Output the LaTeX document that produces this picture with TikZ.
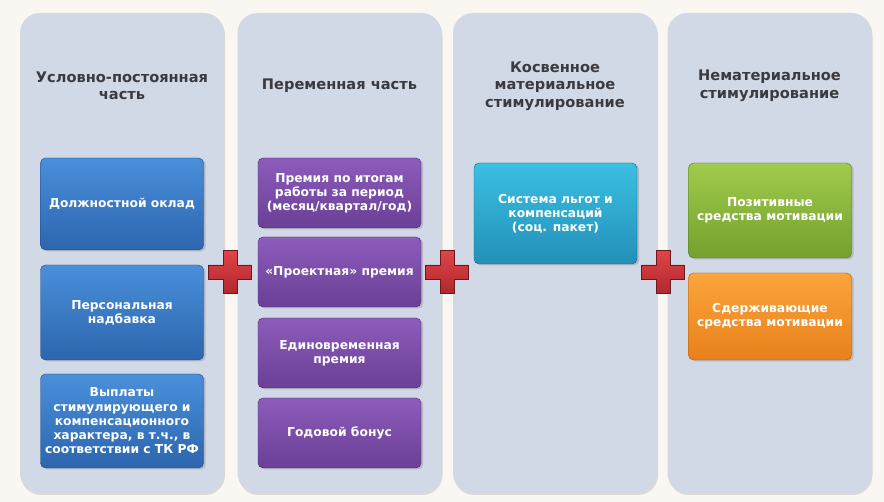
\documentclass[tikz,border=0pt]{standalone}
\usepackage{fontspec}
\setsansfont{DejaVu Sans}
\usetikzlibrary{shadows}
\definecolor{paper}{HTML}{FAF7F2}
\definecolor{panelbg}{HTML}{D1D9E7}
\definecolor{ink}{HTML}{3A3A40}
\definecolor{fixtop}{HTML}{4A8FDA}
\definecolor{fixbot}{HTML}{2C66AE}
\definecolor{vartop}{HTML}{8C5CBB}
\definecolor{varbot}{HTML}{6A3F95}
\definecolor{indtop}{HTML}{3BBFE2}
\definecolor{indbot}{HTML}{2390B8}
\definecolor{postop}{HTML}{A0CB4C}
\definecolor{posbot}{HTML}{74A02E}
\definecolor{negtop}{HTML}{FBA53C}
\definecolor{negbot}{HTML}{E8801A}
\definecolor{plustop}{HTML}{E04448}
\definecolor{plusbot}{HTML}{B0282E}

\begin{document}
\begin{tikzpicture}[x=1pt, y=-1pt,
  panel/.style={fill=panelbg, rounded corners=20pt, minimum width=204pt, minimum height=480pt,
    drop shadow={opacity=0.25, shadow xshift=1pt, shadow yshift=-2pt}},
  head/.style={font=\sffamily\bfseries\fontsize{14.6}{17.5}\selectfont, text=ink, align=center},
  item/.style={rounded corners=5pt, minimum width=163pt, align=center, text=white, inner sep=2pt,
    font=\sffamily\bfseries\fontsize{12.3}{14.2}\selectfont, drop shadow={opacity=0.35, shadow yshift=-1.5pt}},
  fixitem/.style={item, top color=fixtop, bottom color=fixbot, draw=fixbot!70!black},
  varitem/.style={item, top color=vartop, bottom color=varbot, draw=varbot!70!black},
  inditem/.style={item, top color=indtop, bottom color=indbot, draw=indbot!70!black},
  positem/.style={item, top color=postop, bottom color=posbot, draw=posbot!70!black},
  negitem/.style={item, top color=negtop, bottom color=negbot, draw=negbot!70!black},
  plussign/.style={top color=plustop, bottom color=plusbot, draw=plusbot!60!black, line width=0.8pt}]

  \useasboundingbox[fill=paper] (0,0) rectangle (884,502);

  % Columns
  \foreach \n/\x in {fixp/122, varp/339.5, indp/555, nonp/769.5}
    \node[panel] (\n) at (\x,253) {};

  % Column headings
  \node[head] (fixh) at (122,86) {Условно-постоянная\\часть};
  \node[head] (varh) at (339.5,86) {Переменная часть};
  \node[head] (indh) at (555,86) {Косвенное\\материальное\\стимулирование};
  \node[head] (nonh) at (769.5,86) {Нематериальное\\стимулирование};

  % Fixed part
  \node[fixitem, minimum height=92pt] (salary) at (122,204) {Должностной оклад};
  \node[fixitem, minimum height=95pt] (bonus) at (122,312.5) {Персональная\\надбавка};
  \node[fixitem, minimum height=94pt] (extra) at (122,421) {Выплаты\\стимулирующего и\\компенсационного\\характера, в т.ч., в\\соответствии с ТК РФ};

  % Variable part
  \node[varitem, minimum height=70pt] (period) at (339.5,193) {Премия по итогам\\работы за период\\(месяц/квартал/год)};
  \node[varitem, minimum height=70pt] (project) at (339.5,272) {«Проектная» премия};
  \node[varitem, minimum height=70pt] (single) at (339.5,353) {Единовременная\\премия};
  \node[varitem, minimum height=70pt] (annual) at (339.5,433) {Годовой бонус};

  % Indirect
  \node[inditem, minimum height=101pt] (social) at (555.5,213.5) {Система льгот и\\компенсаций\\(соц. пакет)};

  % Non-material
  \node[positem, minimum height=95pt] (posmot) at (770,210.5) {Позитивные\\средства мотивации};
  \node[negitem, minimum height=87pt] (negmot) at (770,316.5) {Сдерживающие\\средства мотивации};

  % Plus signs
  \foreach \px in {230, 447, 663} {
    \begin{scope}[shift={(\px,272)}]
      \path[plussign] (-7,-21.5) -- (7,-21.5) -- (7,-7) -- (21.5,-7) -- (21.5,7) -- (7,7)
        -- (7,21.5) -- (-7,21.5) -- (-7,7) -- (-21.5,7) -- (-21.5,-7) -- (-7,-7) -- cycle;
    \end{scope}
  }
\end{tikzpicture}
\end{document}
